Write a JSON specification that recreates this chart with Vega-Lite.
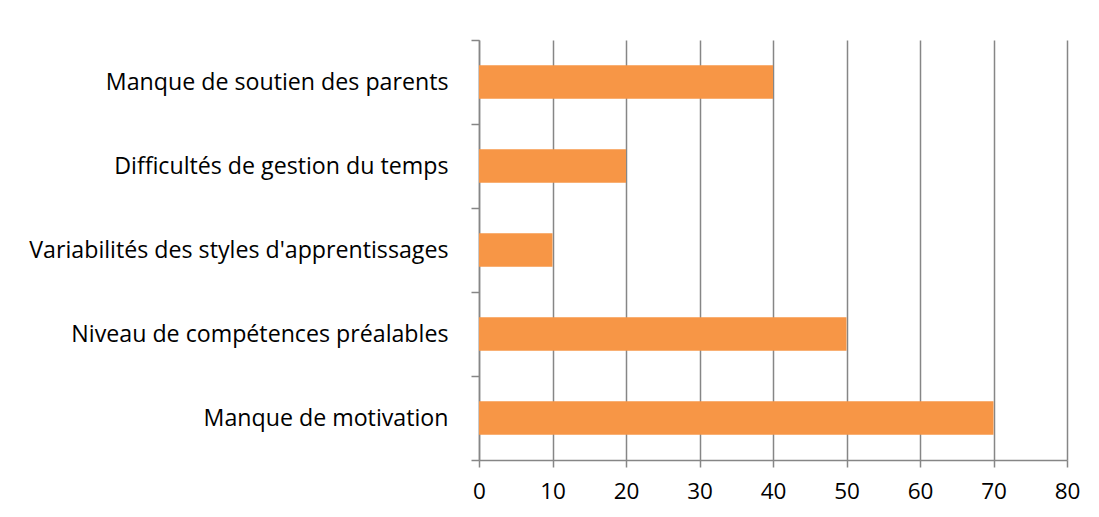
{
  "$schema": "https://vega.github.io/schema/vega-lite/v6.json",
  "width": 588,
  "height": 420,
  "autosize": {"type": "none"},
  "padding": {"left": 479, "top": 40, "right": 32, "bottom": 57},
  "background": "white",
  "config": {
    "view": {"stroke": null},
    "font": "Open Sans"
  },
  "data": {
    "values": [
      {"cause": "Manque de soutien des parents", "value": 40},
      {"cause": "Difficultés de gestion du temps", "value": 20},
      {"cause": "Variabilités des styles d'apprentissages", "value": 10},
      {"cause": "Niveau de compétences préalables", "value": 50},
      {"cause": "Manque de motivation", "value": 70}
    ]
  },
  "mark": {"type": "bar", "color": "#F79646", "height": {"band": 0.4}},
  "encoding": {
    "y": {
      "field": "cause",
      "type": "nominal",
      "sort": null,
      "scale": {"paddingInner": 0, "paddingOuter": 0},
      "axis": {
        "title": null,
        "tickBand": "extent",
        "domainColor": "#868686",
        "domainWidth": 1.5,
        "tickColor": "#868686",
        "tickWidth": 1.5,
        "tickSize": 8,
        "labelPadding": 23,
        "labelFontSize": 23.2,
        "labelColor": "#000000",
        "labelFont": "Open Sans",
        "labelLimit": 600
      }
    },
    "x": {
      "field": "value",
      "type": "quantitative",
      "scale": {"domain": [0, 80]},
      "axis": {
        "title": null,
        "values": [0, 10, 20, 30, 40, 50, 60, 70, 80],
        "labelFlush": false,
        "grid": true,
        "gridColor": "#868686",
        "gridWidth": 1.5,
        "domainColor": "#868686",
        "domainWidth": 1.5,
        "tickColor": "#868686",
        "tickWidth": 1.5,
        "tickSize": 7,
        "labelPadding": 13,
        "labelFontSize": 22.5,
        "labelColor": "#000000",
        "labelFont": "Open Sans"
      }
    }
  }
}
